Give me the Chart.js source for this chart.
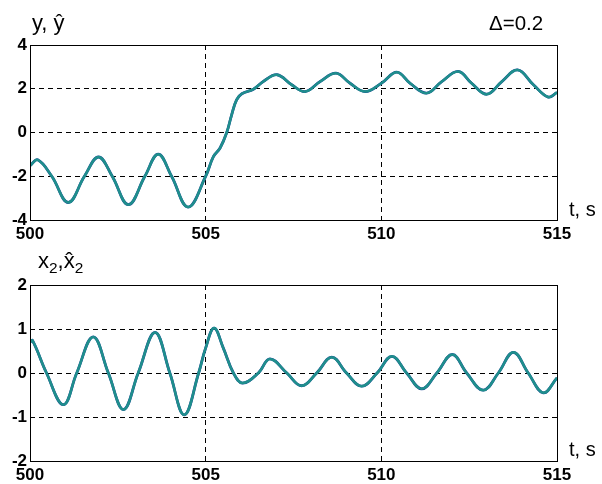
<!DOCTYPE html>
<html>
<head>
<meta charset="utf-8">
<script src="https://cdn.jsdelivr.net/npm/chart.js@4.4.1/dist/chart.umd.min.js"></script>
<style>
  body { margin: 0; background: #fff; }
  #wrap { position: relative; width: 602px; height: 484px; overflow: hidden; font-family: "Liberation Sans", Arial, sans-serif; }
  .box { position: absolute; left: 0; width: 602px; }
  .lbl { position: absolute; color: #000; white-space: nowrap; line-height: 1; }
  sub { font-size: 70%; vertical-align: -0.35em; line-height: 0; }
</style>
</head>
<body>
<div id="wrap">
  <div class="box" style="top:0;height:245px"><canvas id="top-chart"></canvas></div>
  <div class="box" style="top:240px;height:244px"><canvas id="bottom-chart"></canvas></div>
  <div class="lbl" style="left:32px;top:12px;font-size:22px">y, ŷ</div>
  <div class="lbl" style="left:489px;top:13px;font-size:20.5px">Δ=0.2</div>
  <div class="lbl" style="left:569px;top:199px;font-size:20px">t, s</div>
  <div class="lbl" style="left:38px;top:250px;font-size:22px">x<sub>2</sub>,x̂<sub>2</sub></div>
  <div class="lbl" style="left:569px;top:439px;font-size:20px">t, s</div>
</div>
<script>
// top plot: y and its estimate
var tTop = [500.0, 500.22, 500.62, 501.09, 501.55, 501.95, 502.34, 502.8, 503.27, 503.65, 504.03, 504.5,
  505.0, 505.22, 505.41, 505.6, 505.74, 505.88, 506.03, 506.36, 506.64, 507.03, 507.45, 507.83,
  508.26, 508.71, 509.11, 509.54, 510.0, 510.44, 510.82, 511.29, 511.72, 512.19, 512.57, 513.0,
  513.43, 513.88, 514.33, 514.75, 515.0];
var yTop = [-1.52, -1.25, -2.0, -3.2, -2.0, -1.12, -2.0, -3.3, -2.0, -0.99, -2.0, -3.41,
  -2.0, -1.1, -0.71, 0.0, 0.81, 1.49, 1.77, 1.98, 2.33, 2.64, 2.18, 1.87,
  2.33, 2.71, 2.25, 1.87, 2.25, 2.76, 2.25, 1.8, 2.33, 2.79, 2.25, 1.75,
  2.33, 2.86, 2.18, 1.62, 1.83];
var yHatTop = [-1.52, -1.25, -2.0, -3.2, -2.0, -1.12, -2.0, -3.3, -2.0, -0.99, -2.0, -3.41,
  -2.0, -1.1, -0.71, 0.0, 0.81, 1.49, 1.77, 1.98, 2.33, 2.64, 2.18, 1.87,
  2.33, 2.71, 2.25, 1.87, 2.25, 2.76, 2.25, 1.8, 2.33, 2.79, 2.25, 1.75,
  2.33, 2.86, 2.18, 1.62, 1.83];

// bottom plot: x2 and its estimate
var tBot = [500.0, 500.07, 500.47, 500.95, 501.33, 501.8, 502.23, 502.66, 503.08, 503.56, 503.98, 504.39,
  504.8, 505.0, 505.24, 505.5, 505.79, 506.05, 506.5, 506.83, 507.31, 507.73, 508.16, 508.59,
  509.01, 509.44, 509.88, 510.3, 510.72, 511.15, 511.58, 512.02, 512.43, 512.9, 513.33, 513.76,
  514.18, 514.61, 515.0];
var x2 = [0.70, 0.74, 0, -0.72, 0, 0.82, 0, -0.83, 0, 0.92, 0, -0.95,
  0, 0.57, 1.02, 0.57, 0, -0.23, 0, 0.32, 0, -0.29, 0, 0.36,
  0, -0.30, 0, 0.38, 0, -0.36, 0, 0.42, 0, -0.39, 0, 0.47,
  0, -0.45, -0.11];
var x2Hat = [0.70, 0.74, 0, -0.72, 0, 0.82, 0, -0.83, 0, 0.92, 0, -0.95,
  0, 0.57, 1.02, 0.57, 0, -0.23, 0, 0.32, 0, -0.29, 0, 0.36,
  0, -0.30, 0, 0.38, 0, -0.36, 0, 0.42, 0, -0.39, 0, 0.47,
  0, -0.45, -0.11];

var xTicks = [500, 505, 510, 515];
var yTicksTop = [-4, -2, 0, 2, 4];
var yTicksBot = [-2, -1, 0, 1, 2];

function pts(t, v) {
  return t.map(function(x, i) { return {x: x, y: v[i]}; });
}

var frame = {
  id: 'frame',
  afterDraw: function(chart) {
    var a = chart.chartArea, c = chart.ctx;
    c.save();
    c.strokeStyle = '#000';
    c.lineWidth = 1;
    c.strokeRect(Math.round(a.left) + 0.5, Math.round(a.top) + 0.5,
      Math.round(a.right - a.left), Math.round(a.bottom - a.top));
    c.restore();
  }
};

function gridColor(min, max) {
  return function(ctx) {
    var v = ctx.tick.value;
    return (v === min || v === max) ? 'rgba(0,0,0,0)' : '#000';
  };
}

function makeChart(id, t, a, b, yMin, yMax, yTicks, xAxisH) {
  var tickFont = {family: '"Liberation Sans", Arial, sans-serif', size: 17, weight: 'bold'};
  new Chart(document.getElementById(id), {
    type: 'line',
    data: {
      // dataset 0 is painted last, so the estimate goes first to sit on top
      datasets: [{
        data: pts(t, b),
        borderColor: '#1f8f8c',
        borderWidth: 2.5,
        pointRadius: 0,
        tension: 0.4,
        fill: false
      }, {
        data: pts(t, a),
        borderColor: '#1d4596',
        borderWidth: 2.8,
        pointRadius: 0,
        tension: 0.4,
        fill: false
      }]
    },
    options: {
      responsive: true,
      maintainAspectRatio: false,
      animation: false,
      events: [],
      layout: {padding: {top: 45, right: 45, left: 0, bottom: 0}},
      plugins: {legend: {display: false}, tooltip: {enabled: false}},
      scales: {
        x: {
          type: 'linear', min: 500, max: 515,
          afterFit: function(s) { s.height = xAxisH; },
          afterBuildTicks: function(s) { s.ticks = xTicks.map(function(v) { return {value: v}; }); },
          ticks: {color: '#000', font: tickFont, padding: 4, maxRotation: 0, autoSkip: false},
          grid: {color: gridColor(500, 515), lineWidth: 1, drawTicks: false},
          border: {display: false, dash: [5, 4]}
        },
        y: {
          min: yMin, max: yMax,
          afterFit: function(s) { s.width = 30; },
          afterBuildTicks: function(s) { s.ticks = yTicks.map(function(v) { return {value: v}; }); },
          ticks: {color: '#000', font: tickFont, padding: 3, autoSkip: false},
          grid: {color: gridColor(yMin, yMax), lineWidth: 1, drawTicks: false},
          border: {display: false, dash: [5, 4]}
        }
      }
    },
    plugins: [frame]
  });
}

makeChart('top-chart', tTop, yTop, yHatTop, -4, 4, yTicksTop, 25);
makeChart('bottom-chart', tBot, x2, x2Hat, -2, 2, yTicksBot, 23);
</script>
</body>
</html>
